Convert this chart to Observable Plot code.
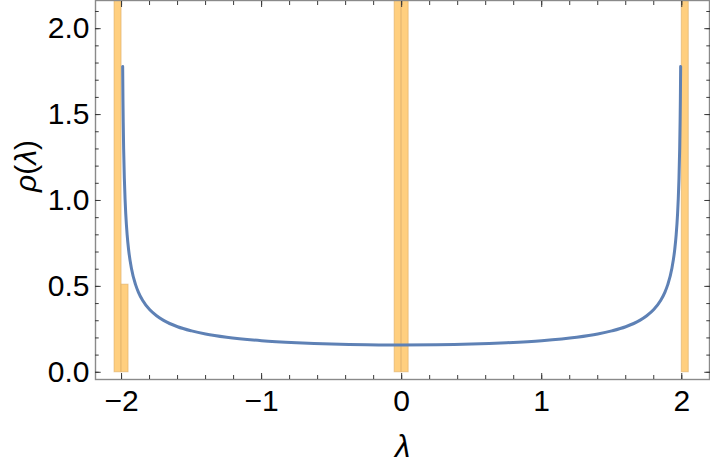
<!DOCTYPE html>
<html><head><meta charset="utf-8">
<script src="https://cdn.jsdelivr.net/npm/d3@7"></script>
<script src="https://cdn.jsdelivr.net/npm/@observablehq/plot@0.6"></script>
<style>html,body{margin:0;padding:0;background:#fff} svg{display:block}</style>
</head><body><div id="chart"></div>
<script>
// Histogram bins (lower edge, width) and heights (tall bars are clipped by the plot range)
const binStarts = [-2.05, -2.0, -0.05, 0.0, 2.0];
const binWidth = 0.05;
const binHeights = [4.1, 0.51, 3.9, 3.9, 4.2];

// Density curve
const curveX = [-1.992, -1.99, -1.988, -1.985, -1.98, -1.975, -1.97, -1.96, -1.95, -1.93, -1.9, -1.88, -1.85, -1.8, -1.75, -1.7, -1.6, -1.5, -1.4, -1.25, -1.0, -0.75, -0.5, -0.25, 0.0,
                0.25, 0.5, 0.75, 1.0, 1.25, 1.4, 1.5, 1.6, 1.7, 1.75, 1.8, 1.85, 1.88, 1.9, 1.93, 1.95, 1.96, 1.97, 1.975, 1.98, 1.985, 1.988, 1.99, 1.992];
const curveY = [1.78, 1.59, 1.455, 1.30, 1.128, 1.01, 0.922, 0.80, 0.716, 0.607, 0.51, 0.467, 0.419, 0.365, 0.329, 0.302, 0.265, 0.241, 0.223, 0.204, 0.184, 0.172, 0.164, 0.160, 0.159,
                0.160, 0.164, 0.172, 0.184, 0.204, 0.223, 0.241, 0.265, 0.302, 0.329, 0.365, 0.419, 0.467, 0.51, 0.607, 0.716, 0.80, 0.922, 1.01, 1.128, 1.30, 1.455, 1.59, 1.78];

// Ticks
const xMajorTicks = [-2, -1, 0, 1, 2];
const xTickLabels = ["\u22122", "\u22121", "0", "1", "2"];
const xMinorTicks = [-2.0, -1.8, -1.6, -1.4, -1.2, -1.0, -0.8, -0.6, -0.4, -0.2, 0.0, 0.2, 0.4, 0.6, 0.8, 1.0, 1.2, 1.4, 1.6, 1.8, 2.0];
const yMajorTicks = [0, 0.5, 1.0, 1.5, 2.0];
const yTickLabels = ["0.0", "0.5", "1.0", "1.5", "2.0"];
const yMinorTicks = [0, 0.1, 0.2, 0.3, 0.4, 0.5, 0.6, 0.7, 0.8, 0.9, 1.0, 1.1, 1.2, 1.3, 1.4, 1.5, 1.6, 1.7, 1.8, 1.9, 2.0, 2.1];

const xLabel = "λ";
const yLabel = "ρ(λ)";

const bars = binStarts.map((s, i) => ({x1: s, x2: s + binWidth, h: binHeights[i]}));
const curve = curveX.map((x, i) => ({lx: x, ly: curveY[i]}));

const font = "'Liberation Sans', Arial, Helvetica, sans-serif";
const tickColor = "#3a3a3a";
const noText = () => "";

const plot = Plot.plot({
  width: 710, height: 467,
  marginLeft: 95, marginRight: 1, marginTop: 0, marginBottom: 88,
  x: {domain: [-2.186, 2.198]},
  y: {domain: [-0.042, 2.164]},
  style: {fontFamily: font, fontSize: "30px", color: "#000", background: "#fff"},
  marks: [
    Plot.rectY(bars, {x1: "x1", x2: "x2", y1: 0, y2: "h", fill: "#ffcc78", fillOpacity: 0.95,
                      stroke: "#d9a860", strokeOpacity: 0.55, strokeWidth: 1, clip: true}),
    Plot.line(curve, {x: "lx", y: "ly", stroke: "#5e81b5", strokeWidth: 3, curve: "monotone-x", clip: true}),
    Plot.frame({stroke: "#8a8a8a", strokeWidth: 1.4}),
    // minor ticks
    Plot.axisX(xMinorTicks, {anchor: "bottom", tickSize: -4, tickFormat: noText, label: null, stroke: tickColor}),
    Plot.axisX(xMinorTicks, {anchor: "top", tickSize: -4, tickFormat: noText, label: null, stroke: tickColor}),
    Plot.axisY(yMinorTicks, {anchor: "left", tickSize: -3.7, tickFormat: noText, label: null, stroke: tickColor}),
    Plot.axisY(yMinorTicks, {anchor: "right", tickSize: -3.7, tickFormat: noText, label: null, stroke: tickColor}),
    // major ticks
    Plot.axisX(xMajorTicks, {anchor: "bottom", tickSize: -6, tickFormat: noText, label: null, stroke: tickColor}),
    Plot.axisX(xMajorTicks, {anchor: "top", tickSize: -6, tickFormat: noText, label: null, stroke: tickColor}),
    Plot.axisY(yMajorTicks, {anchor: "left", tickSize: -5.7, tickFormat: noText, label: null, stroke: tickColor}),
    Plot.axisY(yMajorTicks, {anchor: "right", tickSize: -5.7, tickFormat: noText, label: null, stroke: tickColor}),
    // tick labels
    Plot.axisX(xMajorTicks, {anchor: "bottom", tickSize: 0, tickPadding: 10, fontSize: 30, fill: "#000",
                             tickFormat: d => xTickLabels[xMajorTicks.indexOf(d)], label: null}),
    Plot.axisY(yMajorTicks, {anchor: "left", tickSize: 0, tickPadding: 6, fontSize: 30, fill: "#000",
                             tickFormat: d => yTickLabels[yMajorTicks.indexOf(d)], label: null}),
    // axis labels
    Plot.text([xLabel], {frameAnchor: "bottom", lineAnchor: "bottom", dy: 77, fontSize: 31, fontStyle: "italic", fill: "#000"}),
    Plot.text([yLabel], {frameAnchor: "left", rotate: -90, dx: -69, dy: 2, fontSize: 30, fill: "#000"})
  ]
});

document.getElementById("chart").appendChild(plot);

// italic Greek letters in the y label, upright parentheses
d3.select(plot).selectAll("text").each(function() {
  if (this.textContent === yLabel) {
    const t = d3.select(this);
    t.text(null);
    t.append("tspan").attr("font-style", "italic").text("ρ");
    t.append("tspan").text("(");
    t.append("tspan").attr("font-style", "italic").text("λ");
    t.append("tspan").text(")");
  }
});
</script>
</body></html>
